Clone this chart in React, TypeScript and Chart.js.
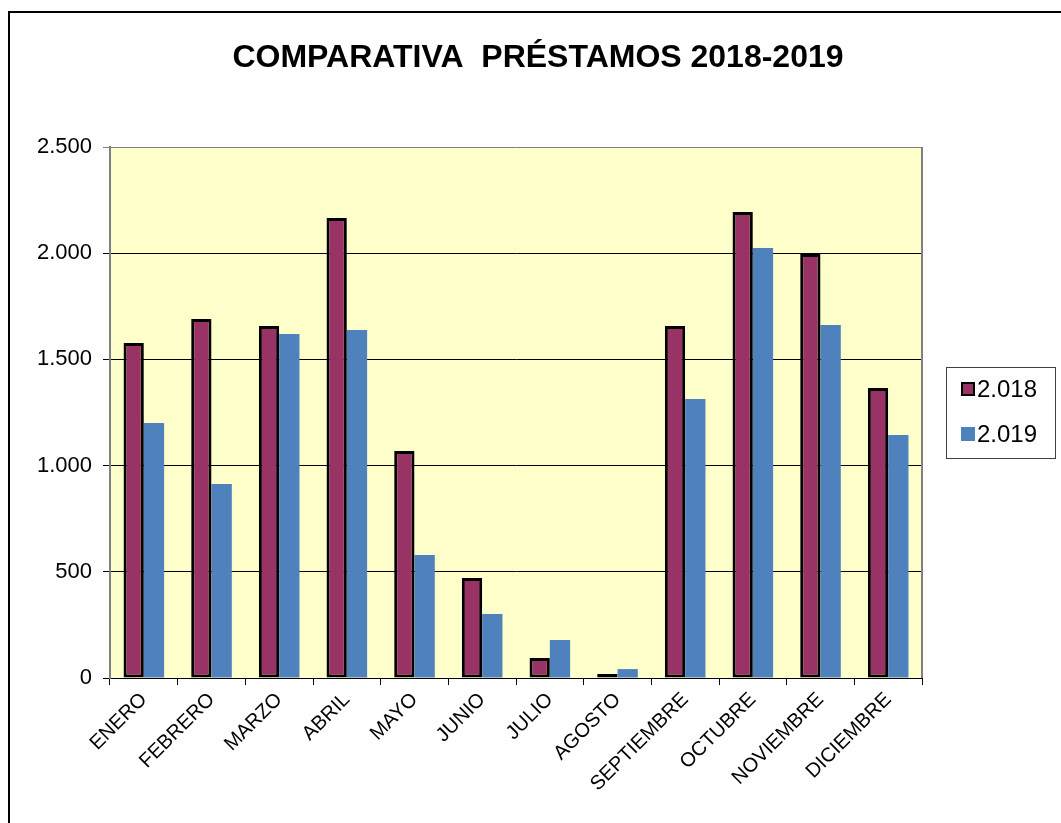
import React, { useEffect, useRef } from "react";
import { Chart, registerables } from "chart.js";

Chart.register(...registerables);

const MONTHS = ["ENERO", "FEBRERO", "MARZO", "ABRIL", "MAYO", "JUNIO", "JULIO", "AGOSTO", "SEPTIEMBRE", "OCTUBRE", "NOVIEMBRE", "DICIEMBRE"];
const SERIES_2018 = [1577, 1690, 1657, 2166, 1069, 471, 94, 19, 1657, 2194, 1996, 1365];
const SERIES_2019 = [1200, 913, 1620, 1638, 579, 301, 179, 42, 1313, 2024, 1662, 1144];
const SERIES_NAMES = ["2.018", "2.019"];
const TITLE = "COMPARATIVA  PRÉSTAMOS 2018-2019";
const Y_MAX = 2500;
const Y_STEP = 500;

const COLOR_2018 = "#993366";
const COLOR_2019 = "#4F81BD";
const FONT = "'Liberation Sans', Arial, sans-serif";

function fmt(v: number): string {
  const s = Math.round(v).toString();
  return s.replace(/\B(?=(\d{3})+(?!\d))/g, ".");
}

const decorPlugin = {
  id: "decor",
  beforeDraw(chart: any) {
    const { ctx, chartArea } = chart;
    ctx.save();
    ctx.fillStyle = "#FFFFCC";
    ctx.fillRect(chartArea.left, chartArea.top, chartArea.right - chartArea.left, chartArea.bottom - chartArea.top);
    ctx.restore();
  },
  afterDraw(chart: any) {
    const { ctx, chartArea } = chart;
    ctx.save();
    // outer frame
    ctx.strokeStyle = "#000";
    ctx.lineWidth = 2;
    ctx.beginPath();
    ctx.moveTo(9, 823);
    ctx.lineTo(9, 12);
    ctx.lineTo(1061, 12);
    ctx.stroke();
    // plot border (right)
    ctx.strokeStyle = "#808080";
    ctx.lineWidth = 2;
    ctx.beginPath();
    ctx.moveTo(chartArea.right, chartArea.top);
    ctx.lineTo(chartArea.right, chartArea.bottom);
    ctx.stroke();
    // title
    ctx.fillStyle = "#000";
    ctx.font = `bold 32px ${FONT}`;
    ctx.textAlign = "center";
    ctx.textBaseline = "middle";
    ctx.fillText(TITLE, 538, 58);
    // legend
    ctx.strokeStyle = "#404040";
    ctx.lineWidth = 1;
    ctx.strokeRect(946.5, 367.5, 109, 91);
    const ds = chart.data.datasets;
    const rows = [389, 434];
    ctx.font = `24px ${FONT}`;
    ctx.textAlign = "left";
    ds.forEach((d: any, i: number) => {
      const y = rows[i];
      ctx.fillStyle = d.backgroundColor;
      ctx.fillRect(961, y - 7, 14, 14);
      if (d.borderWidth) {
        ctx.strokeStyle = "#000";
        ctx.lineWidth = 2;
        ctx.strokeRect(962, y - 6, 12, 12);
      }
      ctx.fillStyle = "#000";
      ctx.fillText(d.label, 977, y + 1);
    });
    ctx.restore();
  },
};

export default function App() {
  const ref = useRef<HTMLCanvasElement>(null);
  useEffect(() => {
    if (!ref.current) return;
    const chart = new Chart(ref.current, {
      type: "bar",
      data: {
        labels: MONTHS,
        datasets: [
          {
            label: SERIES_NAMES[0],
            data: SERIES_2018,
            backgroundColor: COLOR_2018,
            borderColor: "#000",
            borderWidth: 3,
            borderSkipped: false,
            categoryPercentage: 0.6,
            barPercentage: 1.0,
          },
          {
            label: SERIES_NAMES[1],
            data: SERIES_2019,
            backgroundColor: COLOR_2019,
            borderWidth: 0,
            categoryPercentage: 0.6,
            barPercentage: 1.0,
          },
        ],
      },
      options: {
        responsive: false,
        animation: false,
        devicePixelRatio: 1,
        layout: { padding: { top: 147, left: 10, right: 139, bottom: 0 } },
        plugins: {
          legend: { display: false },
          title: { display: false },
          tooltip: { enabled: false },
        },
        scales: {
          x: {
            afterFit(scale: any) {
              scale.height = 145;
            },
            grid: {
              display: true,
              drawOnChartArea: false,
              drawTicks: true,
              tickLength: 7,
              color: "#000",
              offset: true,
            },
            border: { display: true, color: "#000", width: 1 },
            ticks: {
              color: "#000",
              font: { family: FONT, size: 20 },
              minRotation: 45,
              maxRotation: 45,
              autoSkip: false,
              padding: 3,
            },
          },
          y: {
            min: 0,
            max: Y_MAX,
            afterFit(scale: any) {
              scale.width = 100;
            },
            grid: {
              color: (c: any) => (c.tick && c.tick.value === Y_MAX ? "#808080" : "#000"),
              lineWidth: 1,
              tickLength: 7,
            },
            border: { display: true, color: "#808080", width: 2 },
            ticks: {
              stepSize: Y_STEP,
              color: "#000",
              font: { family: FONT, size: 22 },
              padding: 11,
              callback: (v: any) => fmt(Number(v)),
            },
          },
        },
      },
      plugins: [decorPlugin],
    });
    return () => chart.destroy();
  }, []);
  return (
    <div style={{ position: "absolute", left: 0, top: 0, width: 1061, height: 823, background: "#fff" }}>
      <canvas ref={ref} width={1061} height={823} style={{ display: "block" }} />
    </div>
  );
}
